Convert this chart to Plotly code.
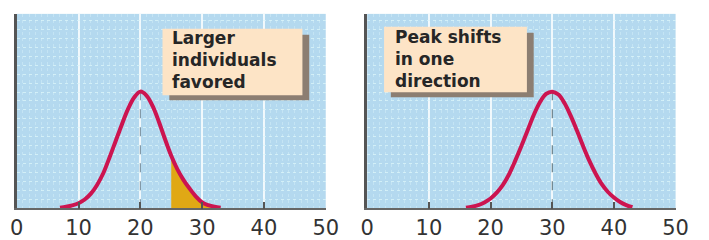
import plotly.graph_objects as go

W, H = 709, 240

# ---- data (y in % of plot height) ----
before_x = [7, 8, 9, 10, 11, 12, 13, 14, 15, 16, 17, 18, 19, 20, 21, 22, 23, 24, 25, 26, 27, 28, 29, 30, 31, 32, 33]
before_y = [0.3, 0.8, 1.5, 2.6, 4.5, 7.5, 12.0, 18.0, 26.0, 34.5, 43.0, 51.0, 57.0, 60.0, 58.0, 52.5, 44.5, 35.5,
            27.0, 20.0, 14.5, 10.0, 6.0, 3.0, 1.6, 0.8, 0.3]
shade_from = 25  # selected (larger) individuals
after_x = [16, 17, 18, 19, 20, 21, 22, 23, 24, 25, 26, 27, 28, 29, 30, 31, 32, 33, 34, 35, 36, 37, 38, 39, 40, 41, 42, 43]
after_y = [0.3, 0.8, 1.6, 3.0, 5.0, 8.0, 12.0, 17.5, 24.5, 32.0, 40.0, 48.0, 54.5, 58.8, 60.0, 58.5, 54.0, 47.5,
           40.0, 32.0, 24.5, 18.0, 12.5, 8.5, 5.5, 3.2, 1.6, 0.5]
tick_vals = [0, 10, 20, 30, 40, 50]
tick_text = ["0", "10", "20", "30", "40", "50"]
left_label = ["Larger", "individuals", "favored"]
right_label = ["Peak shifts", "in one", "direction"]

CURVE = "#cc1450"
GOLD = "#e0a815"
BG = "#b4d9ef"
BOX = "#fde4c6"
SHADOW = "#8c7e72"
TXT = "#262626"


def px(x):
    return x / W


def py(y):
    return 1 - y / H


fig = go.Figure()

# left panel
sx = [x for x in before_x if x >= shade_from]
sy = [y for x, y in zip(before_x, before_y) if x >= shade_from]
fig.add_trace(go.Scatter(x=sx, y=sy, fill="tozeroy", fillcolor=GOLD, mode="lines",
                         line=dict(width=0, shape="spline"), xaxis="x", yaxis="y", hoverinfo="skip"))
pk = before_y.index(max(before_y))
fig.add_trace(go.Scatter(x=[before_x[pk], before_x[pk]], y=[0, before_y[pk]], mode="lines",
                         line=dict(color="#6a8494", width=1, dash="dash"), xaxis="x", yaxis="y"))
fig.add_trace(go.Scatter(x=before_x, y=before_y, mode="lines",
                         line=dict(color=CURVE, width=4, shape="spline"), xaxis="x", yaxis="y"))

# right panel
pk2 = after_y.index(max(after_y))
fig.add_trace(go.Scatter(x=[after_x[pk2], after_x[pk2]], y=[0, after_y[pk2]], mode="lines",
                         line=dict(color="#4a6672", width=1, dash="dash"), xaxis="x2", yaxis="y2"))
fig.add_trace(go.Scatter(x=after_x, y=after_y, mode="lines",
                         line=dict(color=CURVE, width=4, shape="spline"), xaxis="x2", yaxis="y2"))

ydom = [py(210), py(14)]
xcommon = dict(range=[0, 50], tickvals=tick_vals, ticktext=tick_text, showgrid=True,
               gridcolor="rgba(255,255,255,0.8)", gridwidth=1.5, zeroline=False,
               showline=True, linecolor="#666", linewidth=1.5, ticks="inside", ticklen=7,
               tickwidth=1.5, tickcolor="#555",
               tickfont=dict(family="DejaVu Sans", size=21, color="#333333"),
               minor=dict(dtick=1, showgrid=True, gridcolor="rgba(215,242,250,0.45)", griddash="dot",
                          gridwidth=1, ticks=""),
               fixedrange=True)
ycommon = dict(range=[0, 100], showticklabels=False, ticks="", showgrid=True, dtick=4.6,
               gridcolor="rgba(220,245,250,0.75)", griddash="dot", gridwidth=1, zeroline=False,
               showline=True, linecolor="#555", linewidth=2.5, fixedrange=True)

fig.update_layout(
    width=W, height=H, margin=dict(l=0, r=0, t=0, b=0),
    paper_bgcolor="white", plot_bgcolor=BG, showlegend=False,
    xaxis=dict(domain=[px(10), px(328)], anchor="y", **xcommon),
    yaxis=dict(domain=ydom, anchor="x", **ycommon),
    xaxis2=dict(domain=[px(370.7), px(688)], anchor="y2", **xcommon),
    yaxis2=dict(domain=ydom, anchor="x2", **ycommon),
)

shapes = []
for (x0, x1, y0, y1) in [(160, 304, 29, 96), (388, 535, 27, 93)]:
    shapes.append(dict(type="rect", xref="paper", yref="paper", x0=px(x0 + 7), x1=px(x1 + 7),
                       y0=py(y1 + 5), y1=py(y0 + 6), fillcolor=SHADOW, line=dict(width=0), layer="above"))
    shapes.append(dict(type="rect", xref="paper", yref="paper", x0=px(x0), x1=px(x1),
                       y0=py(y1), y1=py(y0), fillcolor=BOX, line=dict(width=0), layer="above"))
fig.update_layout(shapes=shapes)

font = dict(family="DejaVu Sans", size=17, color=TXT, weight="bold")
fig.update_layout(annotations=[
    dict(text="<br>".join(left_label), xref="paper", yref="paper", x=px(168), y=py(61),
         xanchor="left", yanchor="middle", align="left", showarrow=False, font=font),
    dict(text="<br>".join(right_label), xref="paper", yref="paper", x=px(397), y=py(59.5),
         xanchor="left", yanchor="middle", align="left", showarrow=False, font=font),
])

fig.write_html("out.html")
